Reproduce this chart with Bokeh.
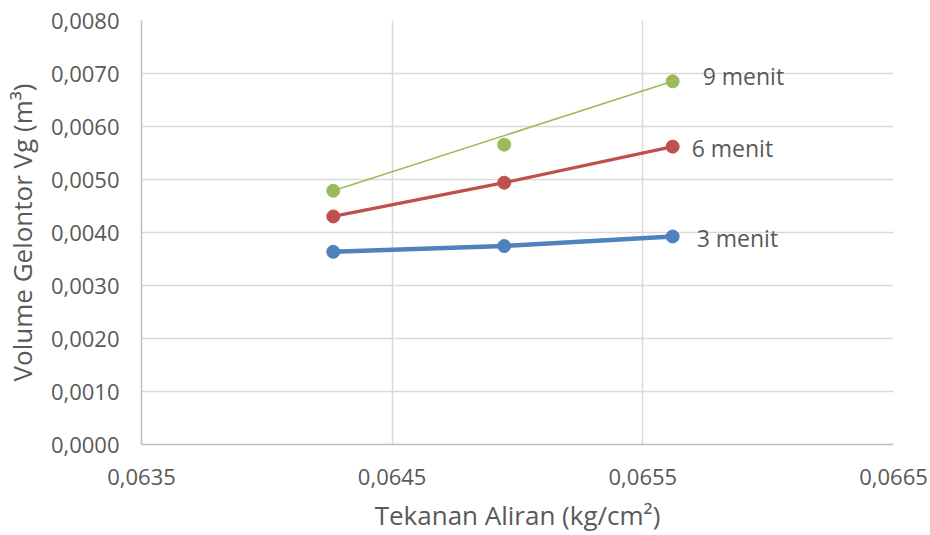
from bokeh.plotting import figure
from bokeh.models import Range1d, FixedTicker, CustomJSTickFormatter, ColumnDataSource
from bokeh.core.properties import value
from bokeh.embed import file_html
from bokeh.resources import INLINE

# Flow pressure (kg/cm²) and flush volume (m³) at three durations
tekanan = [0.064265, 0.064947, 0.065619]
vol_3_menit = [0.003636, 0.003744, 0.003925]
vol_6_menit = [0.004303, 0.004940, 0.005620]
vol_9_menit = [0.004788, 0.005657, 0.006853]
series_names = ["3 menit", "6 menit", "9 menit"]

x_ticks = [0.0635, 0.0645, 0.0655, 0.0665]
y_ticks = [0.0000, 0.0010, 0.0020, 0.0030, 0.0040, 0.0050, 0.0060, 0.0070, 0.0080]

FONT = "Open Sans"
TEXT_COLOR = "#595959"
GRID_COLOR = "#D9D9D9"
BLUE, RED, GREEN = "#4F81BD", "#C0504D", "#9BBB59"

p = figure(
    width=930, height=535,
    output_backend="svg", toolbar_location=None,
    x_range=Range1d(x_ticks[0], x_ticks[-1]),
    y_range=Range1d(y_ticks[0], y_ticks[-1]),
    min_border_left=141, min_border_right=37,
    min_border_top=20, min_border_bottom=91,
)
p.outline_line_color = None
p.background_fill_color = "white"
p.border_fill_color = "white"

comma_fmt = CustomJSTickFormatter(code="return tick.toFixed(4).replace('.', ',');")

for ax in (p.xaxis[0], p.yaxis[0]):
    ax.formatter = comma_fmt
    ax.major_tick_out = 0
    ax.major_tick_in = 0
    ax.minor_tick_out = 0
    ax.minor_tick_in = 0
    ax.axis_line_color = "#BFBFBF"
    ax.axis_line_width = 1.5
    ax.major_label_text_font = FONT
    ax.major_label_text_font_size = "22px"
    ax.major_label_text_color = TEXT_COLOR
    ax.axis_label_text_font = FONT
    ax.axis_label_text_font_size = "26px"
    ax.axis_label_text_font_style = "normal"
    ax.axis_label_text_color = TEXT_COLOR

p.xaxis[0].ticker = FixedTicker(ticks=x_ticks)
p.yaxis[0].ticker = FixedTicker(ticks=y_ticks)
p.xaxis[0].axis_label = "Tekanan Aliran (kg/cm²)"
p.yaxis[0].axis_label = "Volume Gelontor Vg (m³)"
p.xaxis[0].major_label_standoff = 24
p.xaxis[0].axis_label_standoff = 9
p.yaxis[0].major_label_standoff = 22
p.yaxis[0].axis_label_standoff = 8

for g in (p.xgrid[0], p.ygrid[0]):
    g.grid_line_color = GRID_COLOR
    g.grid_line_width = 1.5
p.xgrid[0].ticker = FixedTicker(ticks=x_ticks)
p.ygrid[0].ticker = FixedTicker(ticks=y_ticks)

# 3 menit: thick line through all points
p.line(tekanan, vol_3_menit, line_color=BLUE, line_width=4.5)
p.scatter(tekanan, vol_3_menit, size=13, fill_color=BLUE, line_color=BLUE)

# 6 menit
p.line(tekanan, vol_6_menit, line_color=RED, line_width=3.2)
p.scatter(tekanan, vol_6_menit, size=13, fill_color=RED, line_color=RED)

# 9 menit: thin straight line from first to last point
p.line([tekanan[0], tekanan[-1]], [vol_9_menit[0], vol_9_menit[-1]],
       line_color=GREEN, line_width=1.6)
p.scatter(tekanan, vol_9_menit, size=13, fill_color=GREEN, line_color=GREEN)

# Series labels beside the last point of each line
label_src = ColumnDataSource(dict(
    x=[tekanan[-1]] * 3,
    y=[vol_3_menit[-1], vol_6_menit[-1], vol_9_menit[-1]],
    text=series_names,
    dx=[24, 19, 30],
    dy=[2, 1, -5],
))
p.text(x="x", y="y", text="text", x_offset="dx", y_offset="dy", source=label_src,
       text_font=value(FONT), text_font_size="23px", text_color=TEXT_COLOR,
       text_baseline="middle", text_align="left")

open("out.html", "w").write(file_html(p, INLINE))
